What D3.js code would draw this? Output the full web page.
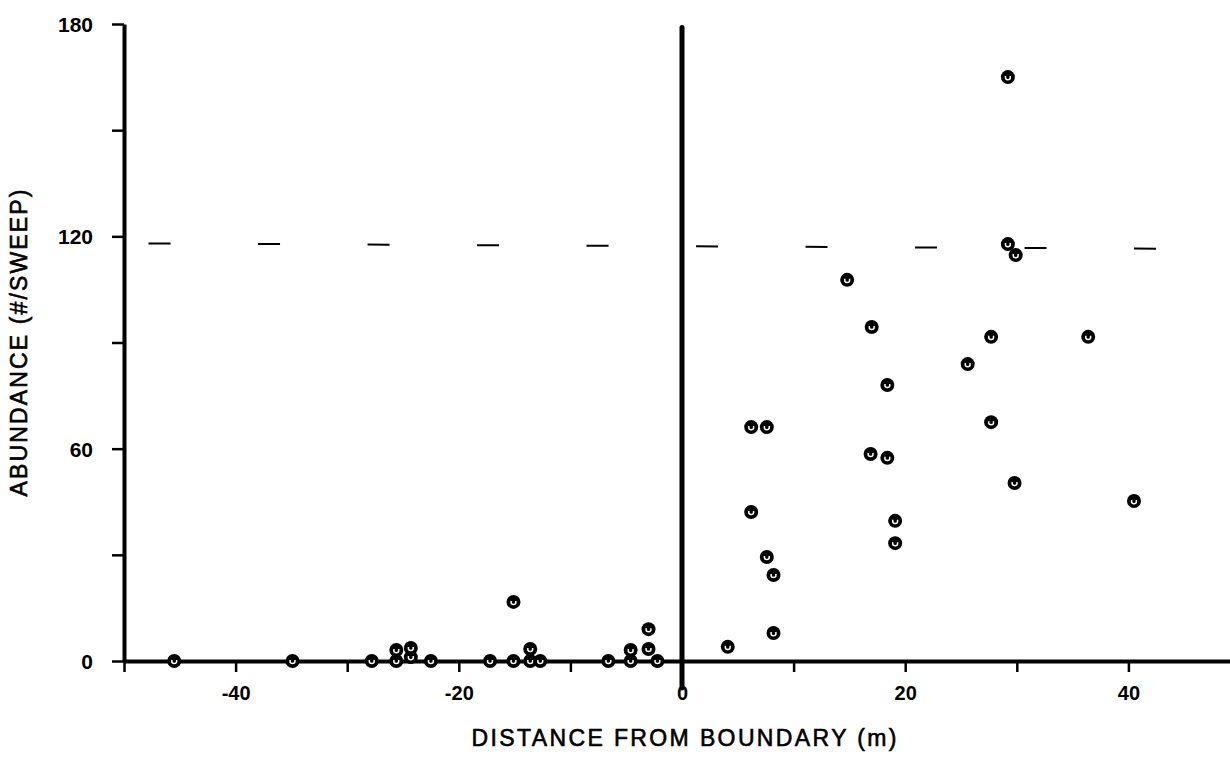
<!DOCTYPE html>
<html lang="en">
<head>
<meta charset="UTF-8"/>
<title>abundance vs distance</title>
<script src="https://d3js.org/d3.v7.min.js"></script>
<style type="text/css">
    body { margin: 0; background: #fff; }
    text { font-family: "Liberation Sans", Arial, sans-serif; fill: #000; }
    .tick text { font-size: 21px; font-weight: bold; }
    .axis path, .axis line { stroke: #000; }
    .title { font-size: 23px; stroke: #000; stroke-width: 0.6px; }
</style>
</head>
<body>
<svg id="chart" width="1230" height="766"></svg>
<script>

// distance from boundary (m) and abundance (#/sweep)
var distance = [-45.5, -34.9, -27.8, -25.6, -25.6, -24.3, -24.3, -22.5, -17.2, -15.1,
                -15.1, -13.6, -13.6, -12.7, -6.6, -4.6, -4.6, -3.0, -3.0, -2.2,
                4.1, 6.2, 7.6, 6.2, 7.6, 8.2, 8.2, 14.8, 16.9, 17.0,
                18.4, 18.4, 19.1, 19.1, 25.6, 27.7, 27.7, 29.2, 29.2, 29.9,
                29.8, 36.4, 40.5]
var abundance = [0, 0, 0, 0, 3.1, 1.1, 3.7, 0, 0, 0,
                 16.7, 0, 3.4, 0, 0, 0, 3.1, 3.4, 9.0, 0,
                 4.0, 66.1, 66.1, 42.1, 29.4, 24.3, 7.9, 107.7, 58.5, 94.4,
                 78.0, 57.4, 39.6, 33.3, 83.9, 91.6, 67.5, 165.0, 117.8, 114.7,
                 50.3, 91.6, 45.2]

var xTicks = [-50, -40, -30, -20, -10, 0, 10, 20, 30, 40]
var xLabels = [-40, -20, 0, 20, 40]
var yTicks = [0, 30, 60, 90, 120, 150, 180]
var yLabels = [0, 60, 120, 180]

// dashed reference line near 120, and the boundary at 0
var refX = [-47.8, 42.9]
var refY = [118, 116.5]
var boundaryY = [179, -7.6]

var svg = d3.select("#chart")

var x = d3.scaleLinear().domain([-50, 50]).range([124, 1240])
var y = d3.scaleLinear().domain([0, 180]).range([661, 24])

// y axis
var yAxis = svg.append("g")
    .attr("class", "axis")
    .attr("transform", "translate(" + x(-50) + ",0)")
    .call(d3.axisLeft(y)
        .tickValues(yTicks)
        .tickSize(12)
        .tickSizeOuter(0)
        .tickPadding(19)
        .tickFormat(function(d) { return yLabels.indexOf(d) >= 0 ? d : "" }))
yAxis.select(".domain").attr("stroke-width", 4)
yAxis.selectAll(".tick line").attr("stroke-width", 2.5)
yAxis.selectAll(".tick text").attr("dy", "0.36em")

// x axis
var xAxis = svg.append("g")
    .attr("class", "axis")
    .attr("transform", "translate(0," + y(0) + ")")
    .call(d3.axisBottom(x)
        .tickValues(xTicks)
        .tickSize(11)
        .tickSizeOuter(0)
        .tickPadding(14)
        .tickFormat(function(d) { return xLabels.indexOf(d) >= 0 ? String(d) : "" }))
xAxis.select(".domain").attr("stroke-width", 4)
xAxis.selectAll(".tick line").attr("stroke-width", 2.5)
xAxis.selectAll(".tick text").style("font-size", "20px")

// dashed line
svg.append("line")
    .attr("x1", x(refX[0])).attr("y1", y(refY[0]))
    .attr("x2", x(refX[1])).attr("y2", y(refY[1]))
    .attr("stroke", "#000")
    .attr("stroke-width", 2)
    .attr("stroke-dasharray", "22,87.5")

// boundary line
svg.append("line")
    .attr("x1", x(0)).attr("y1", y(boundaryY[0]))
    .attr("x2", x(0)).attr("y2", y(boundaryY[1]))
    .attr("stroke", "#000")
    .attr("stroke-width", 5)
    .attr("stroke-linecap", "round")

// points
var pts = svg.selectAll("g.pt")
    .data(d3.range(distance.length))
    .enter()
    .append("g")
    .attr("class", "pt")
    .attr("transform", function(i) { return "translate(" + x(distance[i]) + "," + y(abundance[i]) + ")" })

pts.append("circle")
    .attr("r", 7)
    .attr("fill", "#000")

pts.append("path")
    .attr("d", "M-2.4,-1 L-2.4,0.6 A2.4,2 0 0 0 2.4,0.6 L2.4,-1")
    .attr("fill", "none")
    .attr("stroke", "#fff")
    .attr("stroke-width", 1.5)

// titles
svg.append("text")
    .attr("class", "title")
    .attr("x", 684)
    .attr("y", 746)
    .attr("text-anchor", "middle")
    .attr("textLength", 425)
    .attr("lengthAdjust", "spacing")
    .text("DISTANCE FROM BOUNDARY (m)")

svg.append("text")
    .attr("class", "title")
    .attr("transform", "translate(27,343) rotate(-90)")
    .attr("text-anchor", "middle")
    .attr("textLength", 307)
    .attr("lengthAdjust", "spacing")
    .text("ABUNDANCE (#/SWEEP)")

</script>
</body>
</html>
